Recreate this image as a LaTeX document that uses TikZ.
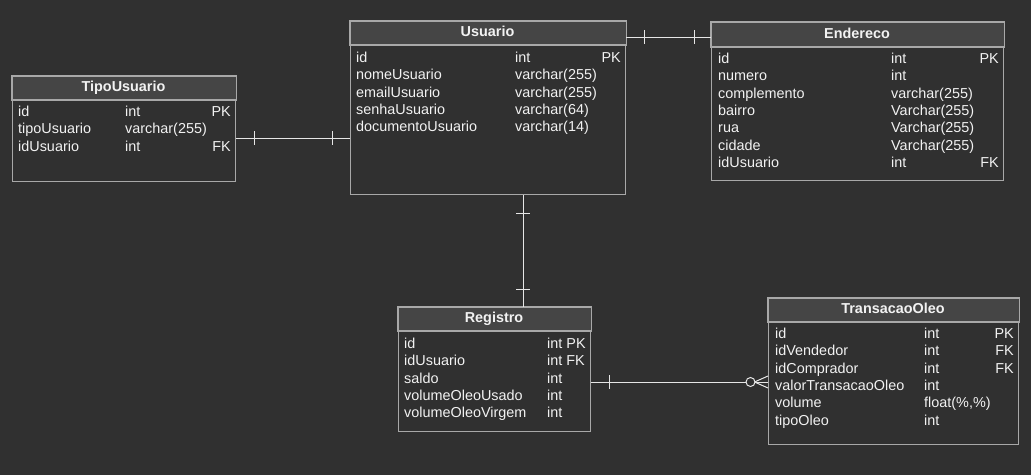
\documentclass[tikz,border=0pt]{standalone}
\usepackage{fontspec}
\setmainfont{Liberation Sans}
\usetikzlibrary{calc}
\definecolor{bgc}{HTML}{303030}
\definecolor{hdrc}{HTML}{454545}
\definecolor{brdc}{HTML}{A8A8A8}
\definecolor{lnc}{HTML}{E6E6E6}
\definecolor{txc}{HTML}{F2F2F2}
\tikzset{
  tbox/.style={draw=brdc, line width=1.1pt, fill=bgc, rectangle, inner sep=0pt, anchor=north west},
  hdr/.style={draw=brdc, line width=1.1pt, fill=hdrc},
  ttl/.style={text=txc, font=\fontsize{14.4}{17}\selectfont\bfseries, inner sep=0pt, anchor=base},
  cell/.style={text=txc, font=\fontsize{14.4}{17}\selectfont, inner sep=0pt},
  rel/.style={draw=lnc, line width=1pt},
}
\begin{document}
\begin{tikzpicture}[x=1pt,y=-1pt]
\fill[bgc] (0,0) rectangle (1031,475);
\useasboundingbox (0,0) rectangle (1031,475);

% ---------- Usuario
\node[tbox, minimum width=275, minimum height=173] (usuario) at (350,21) {};
\draw[hdr] (usuario.north west) rectangle (usuario.east |- 0,45);
\node[ttl] (usuarioT) at (487.5,36.5) {Usuario};
\foreach \n/\t/\k [count=\i from 0] in {id/int/PK, nomeUsuario/varchar(255)/, emailUsuario/varchar(255)/, senhaUsuario/varchar(64)/, documentoUsuario/varchar(14)/}{
  \node[cell, anchor=base west] (usuarioN\i) at (356,{62.5+17.3*\i}) {\n};
  \node[cell, anchor=base west] (usuarioY\i) at (515,{62.5+17.3*\i}) {\t};
  \node[cell, anchor=base east] (usuarioK\i) at (621,{62.5+17.3*\i}) {\k};
}

% ---------- Endereco
\node[tbox, minimum width=292, minimum height=158] (endereco) at (711,22) {};
\draw[hdr] (endereco.north west) rectangle (endereco.east |- 0,47);
\node[ttl] (enderecoT) at (857,38) {Endereco};
\foreach \n/\t/\k [count=\i from 0] in {id/int/PK, numero/int/, complemento/varchar(255)/, bairro/Varchar(255)/, rua/Varchar(255)/, cidade/Varchar(255)/, idUsuario/int/FK}{
  \node[cell, anchor=base west] (enderecoN\i) at (718,{63.5+17.3*\i}) {\n};
  \node[cell, anchor=base west] (enderecoY\i) at (891,{63.5+17.3*\i}) {\t};
  \node[cell, anchor=base east] (enderecoK\i) at (999,{63.5+17.3*\i}) {\k};
}

% ---------- TipoUsuario
\node[tbox, minimum width=223, minimum height=105] (tipo) at (12,76) {};
\draw[hdr] (tipo.north west) rectangle (tipo.east |- 0,100);
\node[ttl] (tipoT) at (123.5,91.5) {TipoUsuario};
\foreach \n/\t/\k [count=\i from 0] in {id/int/PK, tipoUsuario/varchar(255)/, idUsuario/int/FK}{
  \node[cell, anchor=base west] (tipoN\i) at (18,{116.5+17.3*\i}) {\n};
  \node[cell, anchor=base west] (tipoY\i) at (125,{116.5+17.3*\i}) {\t};
  \node[cell, anchor=base east] (tipoK\i) at (231,{116.5+17.3*\i}) {\k};
}

% ---------- Registro
\node[tbox, minimum width=192, minimum height=124] (registro) at (398,307) {};
\draw[hdr] (registro.north west) rectangle (registro.east |- 0,331);
\node[ttl] (registroT) at (494,322.5) {Registro};
\foreach \n/\t [count=\i from 0] in {id/int PK, idUsuario/int FK, saldo/int, volumeOleoUsado/int, volumeOleoVirgem/int}{
  \node[cell, anchor=base west] (registroN\i) at (404,{348.5+17.3*\i}) {\n};
  \node[cell, anchor=base west] (registroY\i) at (547,{348.5+17.3*\i}) {\t};
}

% ---------- TransacaoOleo
\node[tbox, minimum width=250, minimum height=146] (transacao) at (768,298) {};
\draw[hdr] (transacao.north west) rectangle (transacao.east |- 0,322);
\node[ttl] (transacaoT) at (893,313.5) {TransacaoOleo};
\foreach \n/\t/\k [count=\i from 0] in {id/int/PK, idVendedor/int/FK, idComprador/int/FK, valorTransacaoOleo/int/, volume/{float(\%,\%)}/, tipoOleo/int/}{
  \node[cell, anchor=base west] (transacaoN\i) at (775,{338.5+17.3*\i}) {\n};
  \node[cell, anchor=base west] (transacaoY\i) at (924,{338.5+17.3*\i}) {\t};
  \node[cell, anchor=base east] (transacaoK\i) at (1014,{338.5+17.3*\i}) {\k};
}

% ---------- Relations
% TipoUsuario -- Usuario (one to one)
\coordinate (r1a) at (tipo.east |- 0,138);
\coordinate (r1b) at (usuario.west |- 0,138);
\draw[rel] (r1a) -- (r1b);
\draw[rel] ($(r1a)+(18,-7)$) -- ($(r1a)+(18,7)$);
\draw[rel] ($(r1b)+(-18,-7)$) -- ($(r1b)+(-18,7)$);

% Usuario -- Endereco
\coordinate (r2a) at (usuario.east |- 0,37);
\coordinate (r2b) at (endereco.west |- 0,37);
\draw[rel] (r2a) -- (r2b);
\draw[rel] ($(r2a)+(18,-7)$) -- ($(r2a)+(18,7)$);
\draw[rel] ($(r2b)+(-17,-7)$) -- ($(r2b)+(-17,7)$);

% Usuario -- Registro
\coordinate (r3a) at (usuario.south -| 523,0);
\coordinate (r3b) at (registro.north -| 523,0);
\draw[rel] (r3a) -- (r3b);
\draw[rel] ($(r3a)+(-7,18)$) -- ($(r3a)+(7,18)$);
\draw[rel] ($(r3b)+(-7,-18)$) -- ($(r3b)+(7,-18)$);

% Registro -- TransacaoOleo (one to zero-or-many)
\coordinate (r4a) at (registro.east |- 0,382);
\coordinate (r4b) at (transacao.west |- 0,382);
\draw[rel] (r4a) -- ($(r4b)+(-22,0)$);
\draw[rel] ($(r4a)+(18,-7)$) -- ($(r4a)+(18,7)$);
\draw[rel] ($(r4b)+(-17.5,0)$) circle[radius=4.5];
\draw[rel] ($(r4b)+(-13.5,0)$) -- ($(r4b)+(0,-6)$);
\draw[rel] ($(r4b)+(-13,0)$) -- (r4b);
\draw[rel] ($(r4b)+(-13.5,0)$) -- ($(r4b)+(0,6)$);
\end{tikzpicture}
\end{document}
